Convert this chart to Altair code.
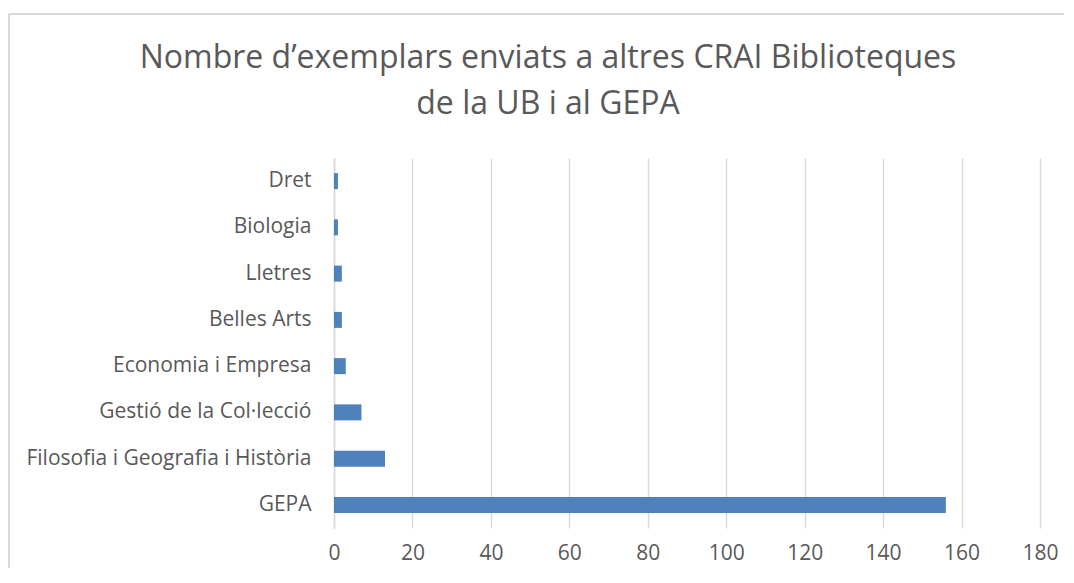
import altair as alt
import pandas as pd

categories = ["Dret", "Biologia", "Lletres", "Belles Arts", "Economia i Empresa",
              "Gestió de la Col·lecció", "Filosofia i Geografia i Història", "GEPA"]
values = [1, 1, 2, 2, 3, 7, 13, 156]
x_ticks = [0, 20, 40, 60, 80, 100, 120, 140, 160, 180]
title_lines = ["Nombre d’exemplars enviats a altres CRAI Biblioteques", "de la UB i al GEPA"]

df = pd.DataFrame({"cat": categories, "val": values})

FONT = "Open Sans"
GREY = "#595959"

bars = alt.Chart(df).mark_bar(color="#4f81bd", size=16).encode(
    y=alt.Y("cat:N", sort=categories, title=None,
            scale=alt.Scale(paddingInner=0.65, paddingOuter=0.325),
            axis=alt.Axis(labelFont=FONT, labelFontSize=21, labelColor=GREY,
                          labelPadding=23, ticks=False, domain=True,
                          domainColor="#d9d9d9", domainWidth=1.5, grid=False,
                          labelLimit=400)),
    x=alt.X("val:Q", title=None,
            scale=alt.Scale(domain=[0, 180], nice=False),
            axis=alt.Axis(values=x_ticks, labelFont=FONT, labelFontSize=21,
                          labelColor=GREY, labelPadding=14, ticks=False,
                          labelFlush=False, labelOverlap=False,
                          domain=False, grid=True, gridColor="#d9d9d9",
                          gridWidth=1.5)),
)

frame_left = alt.Chart(df).mark_rule(color="#d9d9d9", strokeWidth=2, clip=False).encode(
    x=alt.value(-325), y=alt.value(-144), y2=alt.value(440))
frame_top = alt.Chart(df).mark_rule(color="#d9d9d9", strokeWidth=2, clip=False).encode(
    x=alt.value(-325), x2=alt.value(760), y=alt.value(-144))

chart = alt.layer(frame_left, frame_top, bars).properties(
    width=706, height=370,
    padding={"left": 326, "top": 150, "right": 24, "bottom": 40},
    autosize=alt.AutoSizeParams(type="none"),
    title=alt.TitleParams(title_lines, font=FONT, fontSize=32, fontWeight="normal",
                          color=GREY, anchor="middle", frame="group", dx=-139,
                          offset=-108, lineHeight=46),
).configure_view(stroke=None)

chart.save("out.html", embed_options={"renderer": "svg", "actions": False})
